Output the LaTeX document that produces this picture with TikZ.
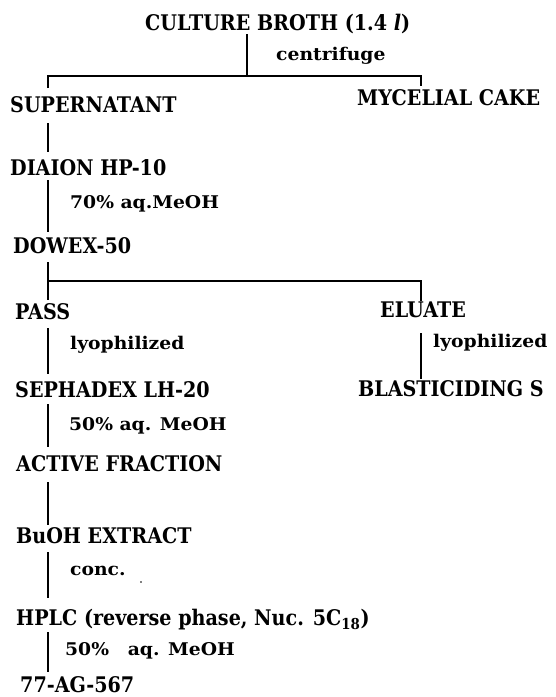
\documentclass[tikz,border=0pt]{standalone}
\usepackage{fontspec}
\setmainfont{DejaVu Serif}[FakeStretch=0.89]
\newfontfamily\condfont{DejaVu Serif}[FakeStretch=1.07]
\usetikzlibrary{calc}
\begin{document}
\begin{tikzpicture}[x=1pt,y=-1pt,
  lbl/.style={anchor=base west, inner sep=0pt, font=\fontsize{21.5}{24}\selectfont\bfseries},
  cond/.style={anchor=base west, inner sep=0pt, font=\condfont\fontsize{17.5}{20}\selectfont\bfseries},
  link/.style={line width=1.6pt}]
\useasboundingbox (0,0) rectangle (556,697);
\coordinate (L) at (48,0);
\coordinate (R) at (421,0);
\coordinate (T) at (247,0);
% nodes
\node[lbl] (cb) at (145,30) {CULTURE BROTH (1.4 \textit{l})};
\node[cond] (c1) at (276,60) {centrifuge};
\node[lbl] (sup) at (10,112) {SUPERNATANT};
\node[lbl] (myc) at (357,105) {MYCELIAL CAKE};
\node[lbl] (dia) at (10,175) {DIAION HP-10};
\node[cond] (c2) at (70,208) {70\% aq.MeOH};
\node[lbl] (dow) at (13,253) {DOWEX-50};
\node[lbl] (pass) at (15,319) {PASS};
\node[lbl] (elu) at (380,317) {ELUATE};
\node[cond] (c3) at (70,349) {lyophilized};
\node[cond] (c4) at (433,347) {lyophilized};
\node[lbl] (sep) at (15,397) {SEPHADEX LH-20};
\node[lbl] (bla) at (358,396) {BLASTICIDING S};
\node[cond] (c5) at (69,430) {50\% aq. MeOH};
\node[lbl] (act) at (16,471) {ACTIVE FRACTION};
\node[lbl] (buo) at (16,543) {BuOH EXTRACT};
\node[cond] (c6) at (70,575) {conc.};
\node[lbl] (hplc) at (16,625) {HPLC (reverse phase, Nuc. 5C\textsubscript{18})};
\node[cond] (c7) at (65,655) {50\%\hspace{0.7em} aq. MeOH};
\node[lbl] (end) at (20,692) {77-AG-567};
\fill (141,582) circle (0.9);
% connectors
\coordinate (s1) at ($(cb.base -| T)+(0,46)$);
\draw[link] ($(cb.base -| T)+(0,4)$) -- (s1);
\draw[link] ($(sup.base -| L)+(0,-24)$) |- (s1) -| ($(myc.base -| R)+(0,-19)$);
\draw[link] ($(sup.base -| L)+(0,11)$) -- ($(dia.base -| L)+(0,-23)$);
\draw[link] ($(dia.base -| L)+(0,5)$) -- ($(dow.base -| L)+(0,-21)$);
\coordinate (s2) at ($(dow.base -| L)+(0,28)$);
\draw[link] ($(dow.base -| L)+(0,9)$) -- ($(pass.base -| L)+(0,-19)$);
\draw[link] (s2) -| ($(elu.base -| R)+(0,-16)$);
\draw[link] ($(pass.base -| L)+(0,9)$) -- ($(sep.base -| L)+(0,-23)$);
\draw[link] ($(elu.base -| R)+(0,16)$) -- ($(bla.base -| R)+(0,-17)$);
\draw[link] ($(sep.base -| L)+(0,7)$) -- ($(act.base -| L)+(0,-24)$);
\draw[link] ($(act.base -| L)+(0,11)$) -- ($(buo.base -| L)+(0,-18)$);
\draw[link] ($(buo.base -| L)+(0,9)$) -- ($(hplc.base -| L)+(0,-27)$);
\draw[link] ($(hplc.base -| L)+(0,7)$) -- ($(end.base -| L)+(0,-20)$);
\end{tikzpicture}
\end{document}
